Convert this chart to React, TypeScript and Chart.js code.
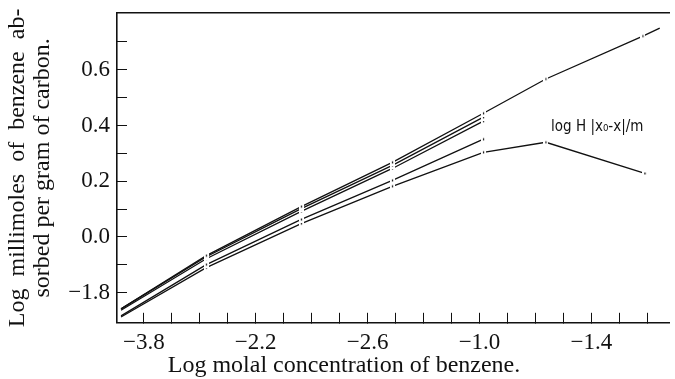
import React, { useEffect, useRef } from "react";
import { Chart, registerables } from "chart.js";

Chart.register(...registerables);

// ---- data (x in axis-label units: label i sits at x = i) ----
const X_TICK_LABELS = ["−3.8", "−2.2", "−2.6", "−1.0", "−1.4"];
const Y_TICK_VALUES = [0.6, 0.4, 0.2, 0.0, -0.2];
const Y_TICK_LABELS = ["0.6", "0.4", "0.2", "0.0", "−1.8"];

const X_SHARED = [-0.204, 0.558, 1.407, 2.221, 3.035];
const X_TOP_EXT = [3.593, 4.46, 4.611];
const X_LOW_EXT = [3.593, 4.478];

const Y_LINE_1 = [-0.258, -0.067, 0.109, 0.268, 0.444, 0.567, 0.721, 0.75];
const Y_LINE_2 = [-0.258, -0.071, 0.102, 0.257, 0.43];
const Y_LINE_3 = [-0.263, -0.078, 0.092, 0.246, 0.416];
const Y_LINE_4 = [-0.283, -0.099, 0.063, 0.203, 0.351];
const Y_LINE_5 = [-0.287, -0.11, 0.048, 0.182, 0.304, 0.34, 0.228];

const X_TITLE = "Log molal concentration of benzene.";
const Y_TITLE = ["Log  millimoles  of  benzene  ab-", "sorbed per gram of carbon."];
const CURVE_LABEL = "log H |x₀-x|/m";
const CURVE_LABEL_X = 3.64;
const CURVE_LABEL_Y = 0.394;

const SERIF = '"Liberation Serif", "Times New Roman", serif';

function pts(xs: number[], ys: number[]) {
  return ys.map((y, i) => ({ x: xs[i], y }));
}

export default function App() {
  const ref = useRef<HTMLCanvasElement | null>(null);

  useEffect(() => {
    const canvas = ref.current;
    if (!canvas) return;

    const mask = document.createElement("canvas");
    mask.width = 5;
    mask.height = 7;
    const m = mask.getContext("2d")!;
    m.fillStyle = "#fff";
    m.fillRect(0, 0, 5, 7);
    m.fillStyle = "#000";
    m.fillRect(2, 2.5, 1.2, 2);

    const mk = (data: { x: number; y: number }[], markLast: boolean) => ({
      data,
      borderColor: "#111",
      borderWidth: 1.3,
      tension: 0,
      fill: false,
      pointStyle: mask,
      pointRadius: (c: any) =>
        c.dataIndex === 0 || (!markLast && c.dataIndex === data.length - 1) ? 0 : 3,
    });

    const labelPlugin = {
      id: "curveLabel",
      afterDatasetsDraw(chart: any) {
        const { ctx, scales } = chart;
        ctx.save();
        ctx.font = '15px "DejaVu Sans Condensed", "Liberation Sans Narrow", "Liberation Sans", sans-serif';
        ctx.fillStyle = "#111";
        ctx.textAlign = "left";
        ctx.textBaseline = "middle";
        ctx.fillText(
          CURVE_LABEL,
          scales.x.getPixelForValue(CURVE_LABEL_X),
          scales.y.getPixelForValue(CURVE_LABEL_Y)
        );
        ctx.restore();
      },
    };

    const zeroPad = (s: any) => {
      s.paddingTop = 0;
      s.paddingBottom = 0;
      s.paddingLeft = 0;
      s.paddingRight = 0;
    };

    const chart = new Chart(canvas, {
      type: "line",
      data: {
        datasets: [
          mk(pts([...X_SHARED, ...X_TOP_EXT], Y_LINE_1), false),
          mk(pts(X_SHARED, Y_LINE_2), true),
          mk(pts(X_SHARED, Y_LINE_3), true),
          mk(pts(X_SHARED, Y_LINE_4), true),
          mk(pts([...X_SHARED, ...X_LOW_EXT], Y_LINE_5), true),
        ] as any,
      },
      options: {
        animation: false,
        responsive: false,
        devicePixelRatio: 1,
        layout: { padding: { left: 13, right: 0, top: 0, bottom: 0 } },
        plugins: {
          legend: { display: false },
          tooltip: { enabled: false },
          title: {
            display: true,
            position: "bottom",
            text: X_TITLE,
            color: "#111",
            font: { family: SERIF, size: 24, weight: "normal", lineHeight: 1.05 },
            padding: { top: 0, bottom: 0.4 },
          },
        },
        scales: {
          x: {
            type: "linear",
            position: "bottom",
            min: -0.24,
            max: 4.7,
            afterFit: (s: any) => {
              s.height = 30.6;
              zeroPad(s);
            },
            grid: {
              drawOnChartArea: false,
              drawTicks: true,
              tickLength: -10,
              color: "#111",
              lineWidth: 1,
            },
            border: { display: true, color: "#111", width: 1.6 },
            ticks: {
              stepSize: 0.25,
              includeBounds: false,
              autoSkip: false,
              maxRotation: 0,
              padding: 16,
              color: "#111",
              font: { family: SERIF, size: 23 },
              callback: (v: any) => {
                const i = Math.round(Number(v));
                return Math.abs(Number(v) - i) < 1e-6 && X_TICK_LABELS[i] !== undefined
                  ? X_TICK_LABELS[i]
                  : "";
              },
            },
          },
          x2: {
            type: "linear",
            position: "top",
            min: -0.24,
            max: 4.7,
            afterFit: (s: any) => {
              s.height = 13;
              zeroPad(s);
            },
            grid: { display: false, drawOnChartArea: false, drawTicks: false },
            border: { display: true, color: "#111", width: 1.6 },
            ticks: { display: false },
          },
          y: {
            type: "linear",
            position: "left",
            min: -0.308,
            max: 0.804,
            afterFit: (s: any) => {
              s.width = 104;
              zeroPad(s);
            },
            afterBuildTicks: (s: any) => {
              s.ticks = s.ticks.filter((t: any) => t.value > -0.25 && t.value < 0.75);
            },
            grid: {
              drawOnChartArea: false,
              drawTicks: true,
              tickLength: -10,
              color: "#111",
              lineWidth: 1,
            },
            border: { display: true, color: "#111", width: 1.6 },
            ticks: {
              stepSize: 0.1,
              includeBounds: false,
              autoSkip: false,
              padding: 17,
              color: "#111",
              font: { family: SERIF, size: 23 },
              callback: (v: any) => {
                const i = Y_TICK_VALUES.findIndex((t) => Math.abs(t - Number(v)) < 1e-6);
                return i >= 0 ? Y_TICK_LABELS[i] : "";
              },
            },
            title: {
              display: true,
              text: Y_TITLE,
              color: "#111",
              align: "center",
              font: { family: SERIF, size: 24, lineHeight: 1.05 },
              padding: { top: -8, bottom: 0 },
            },
          },
        },
      } as any,
      plugins: [labelPlugin],
    });

    return () => chart.destroy();
  }, []);

  return (
    <div style={{ position: "absolute", left: 0, top: 0, width: 675, height: 379, background: "#fff" }}>
      <canvas ref={ref} width={675} height={379} />
    </div>
  );
}
